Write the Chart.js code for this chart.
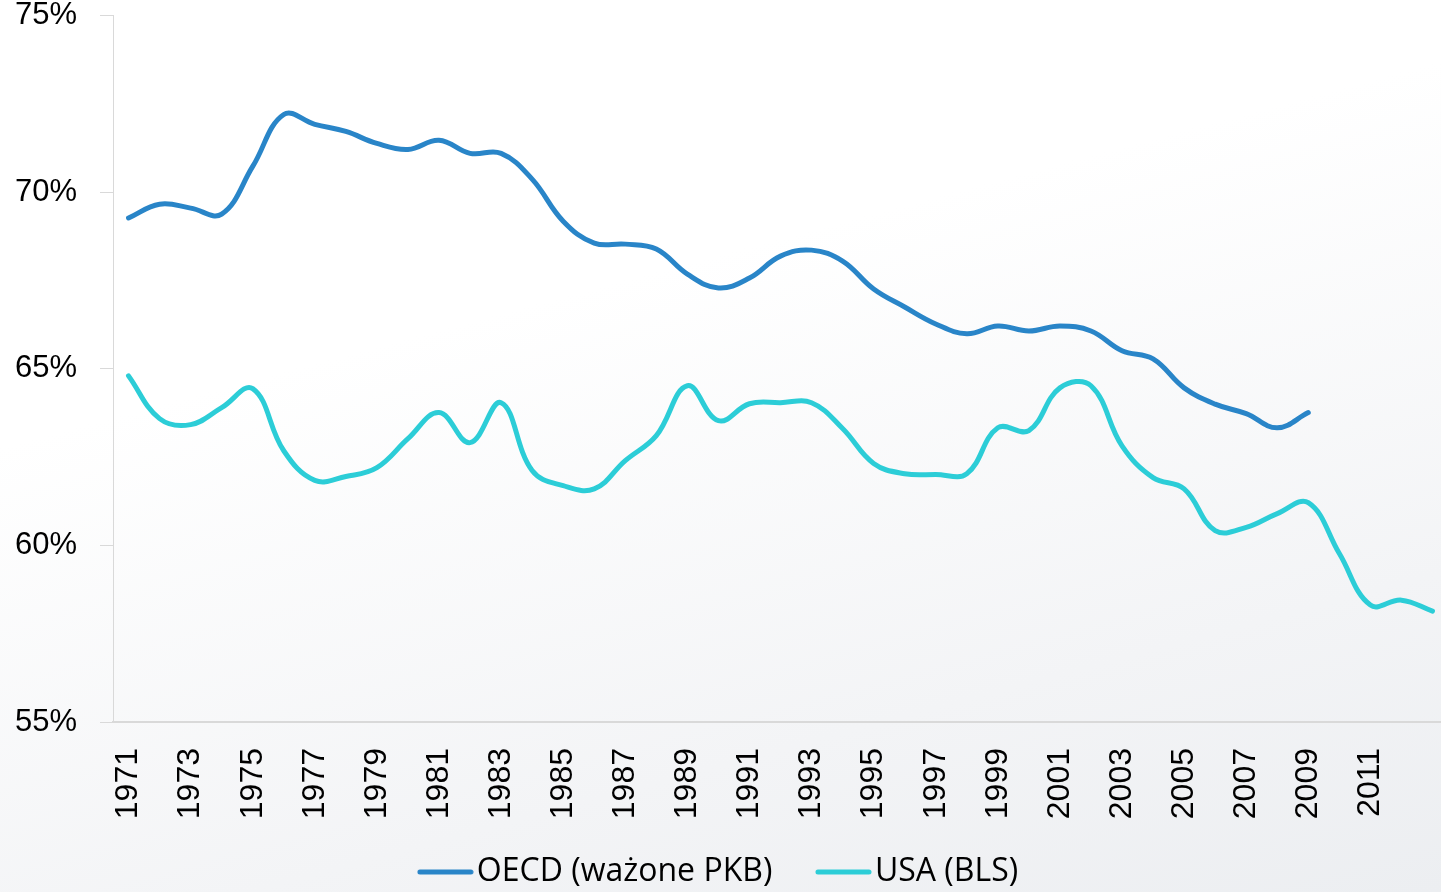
<!DOCTYPE html>
<html lang="pl">
<head>
    <meta charset="UTF-8">
    <title>Udział płac</title>
    <script src="https://cdn.jsdelivr.net/npm/chart.js"></script>
    <style>
        html, body { margin: 0; padding: 0; overflow: hidden; width: 1441px; height: 892px; }
        body { background: linear-gradient(165deg, #ffffff 35%, #f3f4f6 75%, #eceef1 100%); }
        #wykres { position: absolute; left: 0; top: -26px; }
    </style>
</head>
<body>
    <canvas id="wykres" width="1460" height="924"></canvas>

    <script>
        const lata = [];
        for (let r = 1971; r <= 2013; r++) lata.push(String(r));
        const etykietyOsi = ['1971','1973','1975','1977','1979','1981','1983','1985','1987','1989','1991',
                             '1993','1995','1997','1999','2001','2003','2005','2007','2009','2011'];
        const oecd = [69.27, 69.66, 69.55, 69.38, 70.73, 72.2, 71.92, 71.72, 71.38, 71.21,
                      71.47, 71.1, 71.1, 70.37, 69.18, 68.56, 68.53, 68.39, 67.68, 67.29,
                      67.57, 68.19, 68.36, 68.05, 67.26, 66.75, 66.27, 65.99, 66.21, 66.07,
                      66.21, 66.07, 65.51, 65.28, 64.46, 64.0, 63.73, 63.33, 63.76, null,
                      null, null, null];
        const usa = [64.8, 63.59, 63.42, 63.9, 64.44, 62.68, 61.84, 61.95, 62.2, 63.02,
                     63.76, 62.91, 64.04, 62.12, 61.69, 61.6, 62.4, 63.11, 64.52, 63.53,
                     64.01, 64.04, 64.04, 63.31, 62.32, 62.03, 62.01, 62.03, 63.33, 63.25,
                     64.46, 64.52, 62.82, 61.92, 61.6, 60.42, 60.51, 60.9, 61.21, 59.77,
                     58.31, 58.45, 58.14];

        const kolorOecd = '#2985c8';
        const kolorUsa = '#2ccdd7';

        // krotka linia jako znacznik w legendzie
        function probka(kolor) {
            const c = document.createElement('canvas');
            c.width = 57; c.height = 6;
            const g = c.getContext('2d');
            g.strokeStyle = kolor;
            g.lineWidth = 5;
            g.lineCap = 'round';
            g.beginPath(); g.moveTo(3, 3); g.lineTo(54, 3); g.stroke();
            return c;
        }

        new Chart(document.getElementById('wykres'), {
            type: 'line',
            data: {
                labels: lata,
                datasets: [
                    { label: 'OECD (ważone PKB)', data: oecd, borderColor: kolorOecd, backgroundColor: kolorOecd,
                      borderWidth: 5, tension: 0.4, pointRadius: 0, pointStyle: probka(kolorOecd), borderCapStyle: 'round' },
                    { label: 'USA (BLS)', data: usa, borderColor: kolorUsa, backgroundColor: kolorUsa,
                      borderWidth: 5, tension: 0.4, pointRadius: 0, pointStyle: probka(kolorUsa), borderCapStyle: 'round' }
                ]
            },
            options: {
                responsive: false,
                animation: false,
                layout: { padding: { top: 34, right: 12, left: 0, bottom: 0 } },
                plugins: {
                    tooltip: { enabled: false },
                    legend: {
                        position: 'bottom',
                        labels: {
                            usePointStyle: true,
                            pointStyleWidth: 31,
                            padding: 14,
                            color: '#000',
                            font: { family: "'Open Sans', sans-serif", size: 32 },
                            generateLabels: chart => {
                                const items = Chart.defaults.plugins.legend.labels.generateLabels(chart);
                                items[0].text += '     '; // odstep miedzy pozycjami
                                return items;
                            }
                        }
                    }
                },
                scales: {
                    x: {
                        offset: true,
                        grid: { drawOnChartArea: false, drawTicks: false },
                        border: { color: '#d9d9d9', width: 2 },
                        afterFit: s => { s.height = 120; s.paddingLeft = 0; s.paddingRight = 0; },
                        ticks: {
                            autoSkip: false,
                            minRotation: 90,
                            maxRotation: 90,
                            padding: 26,
                            color: '#000',
                            font: { family: "'Liberation Sans', Arial, sans-serif", size: 32 },
                            callback: function (v) {
                                const t = this.getLabelForValue(v);
                                return etykietyOsi.includes(t) ? t : '';
                            }
                        }
                    },
                    y: {
                        min: 55,
                        max: 75,
                        afterFit: s => { s.width = 113; },
                        grid: { drawOnChartArea: false, tickLength: 13, color: '#d9d9d9' },
                        border: { color: '#d9d9d9' },
                        ticks: {
                            stepSize: 5,
                            padding: 23,
                            color: '#000',
                            font: { family: "'Liberation Sans', Arial, sans-serif", size: 31 },
                            callback: v => v + '%'
                        }
                    }
                }
            }
        });
    </script>
</body>
</html>
